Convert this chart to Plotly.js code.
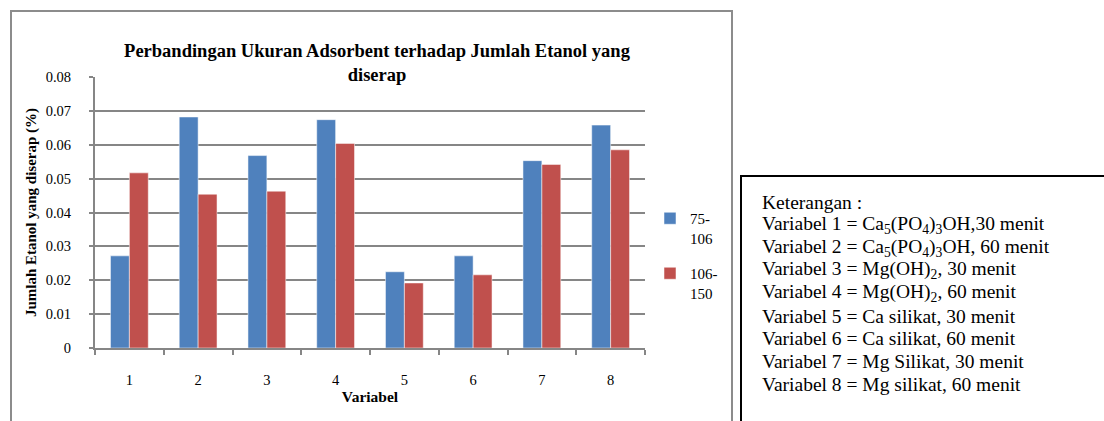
<!DOCTYPE html>
<html>
<head>
<meta charset="utf-8">
<script src="https://cdn.plot.ly/plotly-3.0.1.min.js"></script>
<style>html,body{margin:0;padding:0;background:#fff;}#chart{width:1104px;height:421px;}</style>
</head>
<body>
<div id="chart"></div>
<script>
const categories = ["1", "2", "3", "4", "5", "6", "7", "8"];
const series1Name = "75-<br>106";
const series1 = [0.0272, 0.0682, 0.0568, 0.0674, 0.0225, 0.0272, 0.0553, 0.0658];
const series2Name = "106-<br>150";
const series2 = [0.0517, 0.0454, 0.0463, 0.0604, 0.0192, 0.0216, 0.0542, 0.0585];
const titleText = "Perbandingan Ukuran Adsorbent terhadap Jumlah Etanol yang<br>diserap";
const yTitle = "Jumlah Etanol yang diserap (%)";
const xTitle = "Variabel";
const noteLines = [
  "Keterangan :",
  "Variabel 1 = Ca<sub>5</sub>(PO<sub>4</sub>)<sub>3</sub>OH,30 menit",
  "Variabel 2 = Ca<sub>5</sub>(PO<sub>4</sub>)<sub>3</sub>OH, 60 menit",
  "Variabel 3 = Mg(OH)<sub>2</sub>, 30 menit",
  "Variabel 4 = Mg(OH)<sub>2</sub>, 60 menit",
  "Variabel 5 = Ca silikat, 30 menit",
  "Variabel 6 = Ca silikat, 60 menit",
  "Variabel 7 = Mg Silikat, 30 menit",
  "Variabel 8 = Mg silikat, 60 menit"
];

// plot area in pixels
const L = 95, R = 645, T = 77, B = 348, W = 1104, H = 421;
const px = x => (x - L) / (R - L);
const py = y => (B - y) / (B - T);

const serif = "'Liberation Serif', 'Times New Roman', serif";

const traces = [
  {type: "bar", name: series1Name, x: categories, y: series1, legendgroup: "a",
   marker: {color: "#4F81BD", line: {color: "rgba(255,255,255,0.5)", width: 1}}},
  {type: "bar", name: series2Name, x: categories, y: series2, legendgroup: "b",
   marker: {color: "#C0504D", line: {color: "rgba(255,255,255,0.5)", width: 1}}}
];

const annotations = noteLines.map((t, i) => ({
  text: t, xref: "paper", yref: "paper", x: px(760), y: py(202 + i * 22.8),
  xanchor: "left", yanchor: "middle", showarrow: false,
  font: {family: serif, size: 19.5, color: "#000"}
}));

const shapes = [
  {type: "rect", xref: "paper", yref: "paper", x0: px(11), x1: px(732), y0: py(11), y1: py(440),
   line: {color: "#8c8c8c", width: 2}, fillcolor: "rgba(0,0,0,0)", layer: "below"},
  {type: "rect", xref: "paper", yref: "paper", x0: px(741), x1: px(1120), y0: py(176), y1: py(440),
   line: {color: "#000", width: 2}, fillcolor: "rgba(0,0,0,0)", layer: "below"}
];

const layout = {
  width: W, height: H,
  margin: {l: L, r: W - R, t: T, b: H - B, pad: 0},
  paper_bgcolor: "#fff", plot_bgcolor: "#fff",
  barmode: "group", bargap: 0.45, bargroupgap: 0,
  font: {family: serif, size: 14.5, color: "#000"},
  title: {text: "<b>" + titleText + "</b>", xref: "container", yref: "container",
          x: 377 / W, xanchor: "center", y: 1 - 57 / H, yanchor: "top",
          font: {family: serif, size: 18.5, color: "#000"}},
  xaxis: {type: "category", showline: true, linecolor: "#868686", linewidth: 2,
          ticks: "outside", tickson: "boundaries", ticklen: 5, tickcolor: "#868686", tickwidth: 2,
          ticklabelstandoff: 18,
          tickfont: {family: serif, size: 14.5, color: "#000"}, showgrid: false,
          title: {text: "<b>" + xTitle + "</b>", font: {family: serif, size: 15.5, color: "#000"}, standoff: 4}},
  yaxis: {range: [0, 0.08], dtick: 0.01, showline: true, linecolor: "#868686", linewidth: 2,
          ticks: "outside", ticklen: 4, tickcolor: "#868686", tickwidth: 2,
          ticklabelstandoff: 15,
          showgrid: true, gridcolor: "#868686", gridwidth: 2, zeroline: false,
          tickfont: {family: serif, size: 14.5, color: "#000"},
          title: {text: "<b>" + yTitle + "</b>", font: {family: serif, size: 15, color: "#000"}, standoff: 5}},
  legend: {x: px(650), y: py(202), xanchor: "left", yanchor: "top", valign: "top",
           font: {family: serif, size: 15, color: "#000"}, tracegroupgap: 13,
           itemwidth: 30, bgcolor: "rgba(0,0,0,0)"},
  annotations: annotations,
  shapes: shapes,
  showlegend: true
};

Plotly.newPlot("chart", traces, layout, {displayModeBar: false, staticPlot: true});
</script>
</body>
</html>
